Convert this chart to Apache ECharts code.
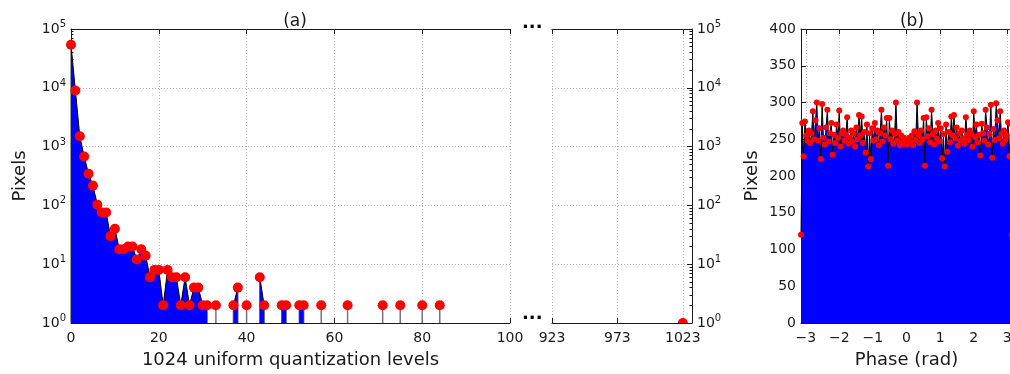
<!DOCTYPE html>
<html>
<head>
<meta charset="utf-8">
<script src="https://cdn.jsdelivr.net/npm/echarts@6/dist/echarts.min.js"></script>
<style>
  html, body { margin: 0; padding: 0; background: #fff; }
  #chart { width: 1010px; height: 374px; }
</style>
</head>
<body>
<div id="chart"></div>
<script>
// (a) histogram of the 1024 quantization levels (only non-empty bins)
const levelsA = [0, 1, 2, 3, 4, 5, 6, 7, 8, 9, 10, 11, 12, 13, 14, 15, 16, 17, 18, 19,
  20, 21, 22, 23, 24, 25, 26, 27, 28, 29, 30, 31, 33, 37, 38, 40, 43, 44, 48, 49,
  52, 53, 57, 63, 71, 75, 80, 84];
const countsA = [54000, 9000, 1500, 680, 345, 217, 103, 76, 76, 30, 40, 18, 18, 20, 20, 12, 18, 14, 6, 8,
  8, 2, 8, 6, 6, 2, 6, 2, 4, 4, 2, 2, 2, 2, 4, 2, 6, 2, 2, 2,
  2, 2, 2, 2, 2, 2, 2, 2];
// tail of the same histogram
const levelsTail = [1023];
const countsTail = [1];

// (b) phase histogram, 161 bins from -pi to pi
const phaseCounts = [
  120, 272, 227, 274, 255, 248, 262, 245, 258, 288, 250, 276, 300, 248, 265, 223, 298, 252, 243, 266,
  290, 247, 258, 272, 229, 256, 245, 270, 252, 289, 240, 258, 262, 248, 256, 280, 244, 252, 262, 247,
  258, 240, 266, 250, 283, 255, 281, 245, 260, 232, 270, 213, 258, 223, 265, 248, 272, 250, 262, 242,
  258, 290, 247, 266, 255, 279, 214, 279, 250, 262, 244, 257, 300, 248, 260, 242, 255, 246, 252, 243,
  248, 244, 252, 247, 255, 242, 261, 249, 300, 256, 245, 262, 250, 279, 214, 280, 254, 265, 246, 290,
  257, 243, 262, 251, 272, 247, 265, 224, 257, 213, 270, 233, 260, 246, 281, 255, 283, 251, 266, 241,
  258, 248, 262, 251, 244, 280, 256, 249, 262, 257, 240, 288, 253, 270, 246, 256, 228, 271, 258, 248,
  290, 266, 243, 257, 297, 225, 264, 249, 299, 276, 251, 288, 257, 244, 262, 249, 255, 273, 227, 271,
  120
];

const decadeTicks = [0, 1, 2, 3, 4, 5];
const phaseTicks = [-3, -2, -1, 0, 1, 2, 3];
const tailTicks = [923, 973, 1023];

// minor ticks of the log axes, drawn on a helper axis in log10 units
const minorLog = [];
decadeTicks.slice(0, 5).forEach(d => {
  for (let m = 2; m <= 9; m++) minorLog.push(d + Math.log10(m));
});

const FONT = 'DejaVu Sans';
const INK = '#1a1a1a';
const GRIDLINE = { show: true, lineStyle: { color: '#b5b5b5', type: [1, 2], width: 1 } };
const SPINE = { show: true, onZero: false, lineStyle: { color: INK, width: 1 } };
const TICK = { show: true, inside: true, length: 5, lineStyle: { color: INK } };

// line data with breaks where bins are empty
const lineA = [];
levelsA.forEach((x, i) => {
  if (i > 0 && x - levelsA[i - 1] > 1) lineA.push([x - 0.5, null]);
  lineA.push([x, countsA[i]]);
});
const pointsA = levelsA.map((x, i) => [x, countsA[i]]);
const pointsTail = levelsTail.map((x, i) => [x, countsTail[i]]);

const binW = 2 * Math.PI / (phaseCounts.length - 1);
const phaseData = phaseCounts.map((v, i) => [-Math.PI + i * binW, v]);

const logLabel = {
  show: true, margin: 5, color: INK, fontFamily: FONT,
  formatter: v => '{b|10}{s|' + Math.round(Math.log10(v)) + '}',
  rich: {
    b: { fontSize: 14, fontFamily: FONT, color: INK },
    s: { fontSize: 10, fontFamily: FONT, color: INK, padding: [0, 0, 9, 0] }
  }
};

function stemItem(params, api) {
  const top = api.coord([api.value(0), api.value(1)]);
  const base = api.coord([api.value(0), 1]);
  return {
    type: 'line',
    shape: { x1: top[0], y1: top[1], x2: base[0], y2: base[1] },
    style: { stroke: '#777', lineWidth: 1.5 }
  };
}

// marker drawn as a shape so the grid clips it (half hidden on the axis)
function dotItem(params, api) {
  const p = api.coord([api.value(0), api.value(1)]);
  return { type: 'circle', shape: { cx: p[0], cy: p[1], r: 5 }, style: { fill: '#ff0000' } };
}

const chart = echarts.init(document.getElementById('chart'));
chart.setOption({
  backgroundColor: '#fff',
  animation: false,
  title: [
    { text: '(a)', left: 290, top: 8, textAlign: 'center',
      textStyle: { fontFamily: FONT, fontSize: 17, fontWeight: 'normal', color: INK } },
    { text: '(b)', left: 907, top: 8, textAlign: 'center',
      textStyle: { fontFamily: FONT, fontSize: 17, fontWeight: 'normal', color: INK } }
  ],
  grid: [
    { left: 71, top: 29, width: 439, height: 294, outerBoundsMode: 'none' },
    { left: 552, top: 29, width: 140, height: 294, outerBoundsMode: 'none' },
    { left: 801, top: 29, width: 211, height: 294, outerBoundsMode: 'none' }
  ],
  xAxis: [
    { gridIndex: 0, type: 'value', min: 0, max: 100, interval: 20, position: 'bottom',
      name: '1024 uniform quantization levels', nameLocation: 'middle', nameGap: 28,
      nameTextStyle: { fontFamily: FONT, fontSize: 18, color: INK },
      axisLine: SPINE, axisTick: TICK, splitLine: GRIDLINE,
      axisLabel: { fontFamily: FONT, fontSize: 14, color: INK, margin: 8 } },
    { gridIndex: 0, type: 'value', min: 0, max: 100, interval: 20, position: 'top',
      axisLine: SPINE, axisTick: TICK, splitLine: { show: false }, axisLabel: { show: false } },
    { gridIndex: 1, type: 'value', min: 923, max: 1030, position: 'bottom',
      axisLine: SPINE, axisTick: Object.assign({}, TICK, { customValues: tailTicks }),
      splitLine: GRIDLINE,
      axisLabel: { customValues: tailTicks, fontFamily: FONT, fontSize: 14, color: INK, margin: 8,
        formatter: v => String(v) } },
    { gridIndex: 1, type: 'value', min: 923, max: 1030, position: 'top',
      axisLine: SPINE, axisTick: Object.assign({}, TICK, { customValues: tailTicks }),
      splitLine: { show: false }, axisLabel: { show: false } },
    { gridIndex: 2, type: 'value', min: -Math.PI, max: Math.PI, position: 'bottom',
      name: 'Phase (rad)', nameLocation: 'middle', nameGap: 28,
      nameTextStyle: { fontFamily: FONT, fontSize: 18, color: INK },
      axisLine: SPINE, axisTick: Object.assign({}, TICK, { customValues: phaseTicks }),
      splitLine: GRIDLINE,
      axisLabel: { customValues: phaseTicks, fontFamily: FONT, fontSize: 14, color: INK, margin: 8,
        formatter: v => (v < 0 ? '\u2212' + (-v) : String(v)) } },
    { gridIndex: 2, type: 'value', min: -Math.PI, max: Math.PI, position: 'top',
      axisLine: SPINE, axisTick: Object.assign({}, TICK, { customValues: phaseTicks }),
      splitLine: { show: false }, axisLabel: { show: false } }
  ],
  yAxis: [
    { gridIndex: 0, type: 'log', logBase: 10, min: 1, max: 100000, position: 'left',
      name: 'Pixels', nameLocation: 'middle', nameGap: 42,
      nameTextStyle: { fontFamily: FONT, fontSize: 18, color: INK },
      axisLine: SPINE, axisTick: TICK, splitLine: GRIDLINE, axisLabel: logLabel },
    { gridIndex: 0, type: 'value', min: 0, max: 5, position: 'left',
      axisLine: { show: false },
      axisTick: { show: true, inside: true, length: 2.5, customValues: minorLog, lineStyle: { color: INK } },
      axisLabel: { show: false }, splitLine: { show: false } },
    { gridIndex: 1, type: 'log', logBase: 10, min: 1, max: 100000, position: 'right',
      axisLine: SPINE, axisTick: TICK, splitLine: GRIDLINE, axisLabel: logLabel },
    { gridIndex: 1, type: 'value', min: 0, max: 5, position: 'right',
      axisLine: { show: false },
      axisTick: { show: true, inside: true, length: 2.5, customValues: minorLog, lineStyle: { color: INK } },
      axisLabel: { show: false }, splitLine: { show: false } },
    { gridIndex: 2, type: 'value', min: 0, max: 400, interval: 50, position: 'left',
      name: 'Pixels', nameLocation: 'middle', nameGap: 40,
      nameTextStyle: { fontFamily: FONT, fontSize: 18, color: INK },
      axisLine: SPINE, axisTick: TICK, splitLine: GRIDLINE,
      axisLabel: { fontFamily: FONT, fontSize: 14, color: INK, margin: 5 } }
  ],
  graphic: [
    { type: 'text', left: 522, top: 14, style: { text: '...', font: 'bold 18px "DejaVu Sans"', fill: '#000' } },
    { type: 'text', left: 522, top: 305, style: { text: '...', font: 'bold 18px "DejaVu Sans"', fill: '#000' } }
  ],
  series: [
    { type: 'custom', xAxisIndex: 0, yAxisIndex: 0, renderItem: stemItem, data: pointsA, z: 1, silent: true },
    { type: 'line', xAxisIndex: 0, yAxisIndex: 0, data: lineA, showSymbol: false, connectNulls: false,
      lineStyle: { color: '#000', width: 1 }, areaStyle: { color: '#0000ff', opacity: 1, origin: 'start' }, z: 2 },
    { type: 'scatter', xAxisIndex: 0, yAxisIndex: 0, data: pointsA, symbolSize: 10,
      itemStyle: { color: '#ff0000', opacity: 1 }, z: 3 },
    { type: 'custom', xAxisIndex: 2, yAxisIndex: 2, renderItem: dotItem, data: pointsTail, clip: true, z: 3 },
    { type: 'line', xAxisIndex: 4, yAxisIndex: 4, data: phaseData, symbol: 'circle', symbolSize: 6,
      itemStyle: { color: '#ff0000', opacity: 1 },
      lineStyle: { color: '#000', width: 1 }, areaStyle: { color: '#0000ff', opacity: 1, origin: 'start' }, z: 2 }
  ]
});
</script>
</body>
</html>
